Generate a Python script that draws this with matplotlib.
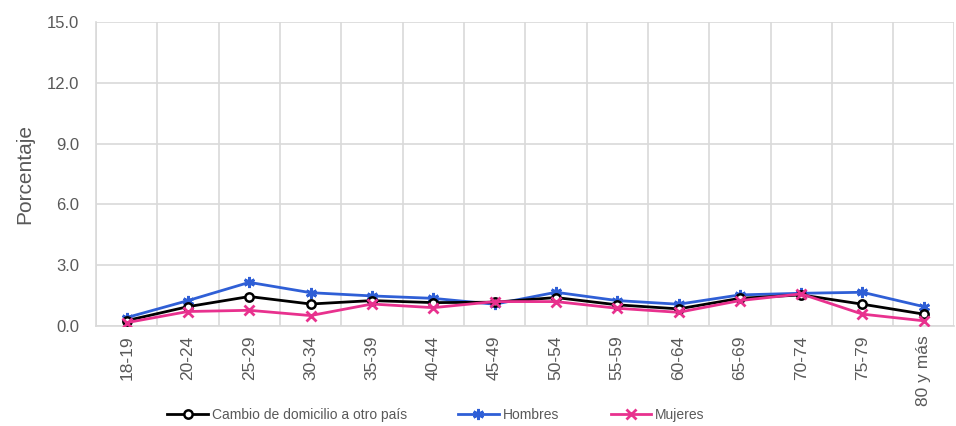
import matplotlib.pyplot as plt

plt.rcParams['font.family'] = ['Liberation Sans', 'DejaVu Sans']

grupos = ['18-19', '20-24', '25-29', '30-34', '35-39', '40-44', '45-49',
          '50-54', '55-59', '60-64', '65-69', '70-74', '75-79', '80 y más']
total = [0.26, 0.95, 1.45, 1.08, 1.25, 1.15, 1.17, 1.40, 1.04, 0.84, 1.36, 1.53, 1.07, 0.58]
hombres = [0.41, 1.25, 2.15, 1.64, 1.48, 1.36, 1.07, 1.66, 1.25, 1.07, 1.53, 1.61, 1.66, 0.95]
mujeres = [0.16, 0.71, 0.77, 0.51, 1.08, 0.90, 1.20, 1.20, 0.87, 0.67, 1.25, 1.58, 0.58, 0.25]

gris = '#595959'
fig = plt.figure(figsize=(9.56, 4.26), dpi=100)
ax = fig.add_axes([0.1004, 0.235, 0.898, 0.713])

x = range(len(grupos))
ax.plot(x, total, color='black', lw=2, marker='o', ms=6, mfc='white', mec='black', mew=1.8,
        label='Cambio de domicilio a otro país', zorder=3)
ax.plot(x, hombres, color='#2F5FD6', lw=2, marker=(6, 2, 0), ms=8, mew=2,
        label='Hombres', zorder=2)
ax.plot(x, mujeres, color='#E8318E', lw=2, marker='x', ms=7, mew=2,
        label='Mujeres', zorder=4)

ax.set_xlim(-0.5, len(grupos) - 0.5)
ax.set_ylim(0, 15)
ax.set_yticks([0, 3, 6, 9, 12, 15])
ax.set_yticklabels([f'{v:.1f}' for v in [0, 3, 6, 9, 12, 15]])
ax.set_xticks(list(x))
ax.set_xticklabels(grupos, rotation=90)
ax.set_xticks([i + 0.5 for i in range(-1, len(grupos))], minor=True)
ax.grid(False)
ax.grid(True, which='minor', axis='x', color='#d9d9d9', lw=1.2)
ax.grid(True, which='major', axis='y', color='#d9d9d9', lw=1.2)
ax.set_axisbelow(True)
ax.tick_params(which='both', length=0, colors=gris)
ax.tick_params(axis='y', labelsize=12, pad=12)
ax.tick_params(axis='x', labelsize=12.5, pad=7)
for s in ['top', 'right']:
    ax.spines[s].set_visible(False)
for s in ['left', 'bottom']:
    ax.spines[s].set_color('#d9d9d9')
    ax.spines[s].set_linewidth(1.2)
ax.set_ylabel('Porcentaje', fontsize=15, color=gris, labelpad=9)

fig.legend(loc='lower center', bbox_to_anchor=(0.456, -0.02), ncol=3, frameon=False,
           fontsize=10, labelcolor=gris, columnspacing=3.7, handlelength=2.9, handletextpad=0.3)

fig.savefig('out.png', dpi=100)
